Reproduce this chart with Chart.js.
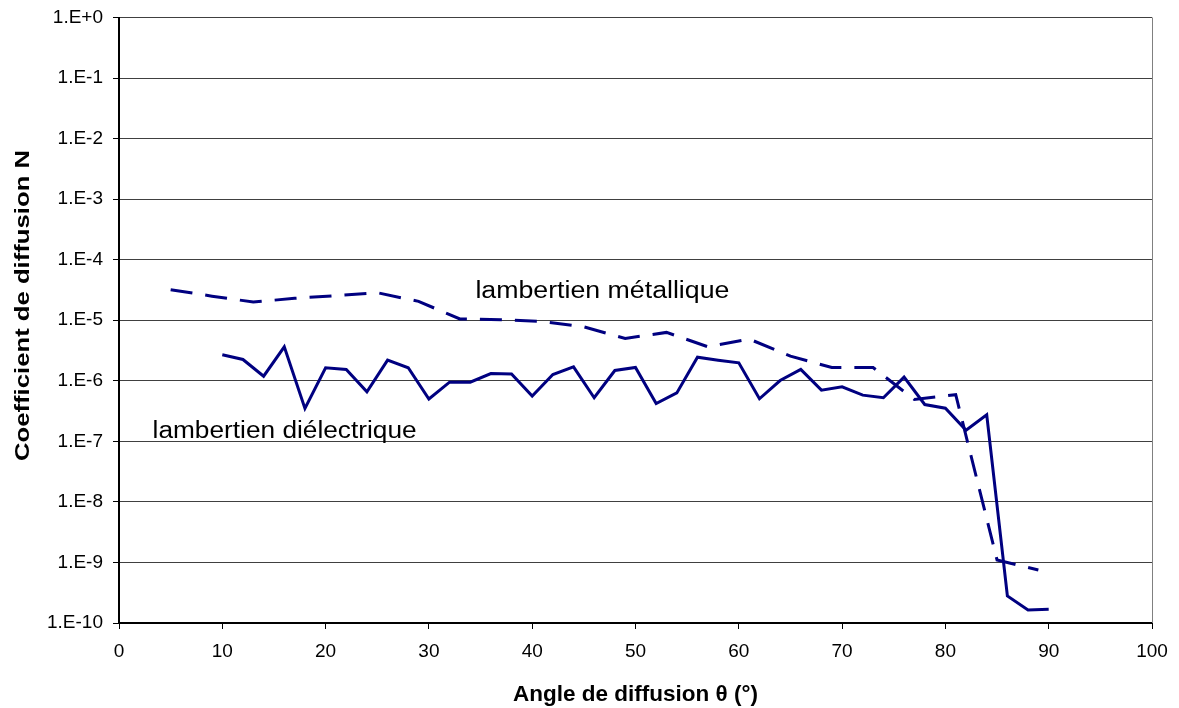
<!DOCTYPE html>
<html><head><meta charset="utf-8">
<script src="https://cdn.jsdelivr.net/npm/chart.js@4"></script>
<style>html,body{margin:0;padding:0;background:#fff;} canvas{display:block;}</style>
</head><body>
<canvas id="c" width="1179" height="708"></canvas>
<script>
// ---- data ----
const anglesDielectric = [10,12,14,16,18,20,22,24,26,28,30,32,34,36,38,40,42,44,46,48,50,52,54,56,58,60,62,64,66,68,70,72,74,76,78,80,82,84,86,88,90];
const valuesDielectric = [2.7e-6,2.25e-6,1.19e-6,3.64e-6,3.5e-7,1.64e-6,1.54e-6,6.6e-7,2.19e-6,1.64e-6,5.0e-7,9.5e-7,9.5e-7,1.32e-6,1.3e-6,5.6e-7,1.27e-6,1.7e-6,5.25e-7,1.48e-6,1.66e-6,4.2e-7,6.3e-7,2.45e-6,2.19e-6,1.98e-6,5.05e-7,1.01e-6,1.54e-6,7.0e-7,7.96e-7,5.8e-7,5.25e-7,1.15e-6,4.06e-7,3.53e-7,1.53e-7,2.75e-7,2.79e-10,1.64e-10,1.68e-10];
const anglesMetallic = [5,9,13,17,21,25,29,33,37,41,45,49,53,57,61,65,69,73,77,81,85,89];
const valuesMetallic = [3.2e-5,2.5e-5,2.0e-5,2.3e-5,2.55e-5,2.85e-5,2.05e-5,1.05e-5,1.02e-5,9.5e-6,7.8e-6,5.0e-6,6.3e-6,3.65e-6,4.9e-6,2.55e-6,1.66e-6,1.66e-6,4.9e-7,5.9e-7,1.1e-9,7.5e-10];
const xTickValues = [0,10,20,30,40,50,60,70,80,90,100];
const yTickExponents = [0,-1,-2,-3,-4,-5,-6,-7,-8,-9,-10];
const labelMetallic = 'lambertien métallique';
const labelDielectric = 'lambertien diélectrique';
const xAxisTitle = 'Angle de diffusion θ (°)';
const yAxisTitle = 'Coefficient de diffusion N';

const FONT = "'Liberation Sans', Arial, Helvetica, sans-serif";
const NAVY = '#000080';

const toPoints = (xs, ys) => xs.map((x, i) => ({x: x, y: ys[i]}));

// draw text stretched along its reading direction to a target length
function stretchedText(ctx, text, x, y, targetWidth) {
  const w = ctx.measureText(text).width;
  const s = targetWidth / w;
  ctx.save();
  ctx.translate(x, y);
  ctx.scale(s, 1);
  ctx.fillText(text, 0, 0);
  ctx.restore();
}

const extras = {
  id: 'extras',
  afterDraw(chart) {
    const ctx = chart.ctx;
    const a = chart.chartArea;
    const xs = chart.scales.x, ys = chart.scales.y;
    ctx.save();
    // right border of plot area
    ctx.strokeStyle = '#808080';
    ctx.lineWidth = 1;
    ctx.beginPath();
    ctx.moveTo(Math.round(a.right) + 0.5, a.top);
    ctx.lineTo(Math.round(a.right) + 0.5, a.bottom);
    ctx.stroke();
    // series labels
    ctx.fillStyle = '#000';
    ctx.font = '23px ' + FONT;
    ctx.textAlign = 'left';
    ctx.textBaseline = 'alphabetic';
    stretchedText(ctx, labelMetallic, xs.getPixelForValue(34.5), ys.getPixelForValue(2.33e-5), 254);
    stretchedText(ctx, labelDielectric, xs.getPixelForValue(3.25), ys.getPixelForValue(1.135e-7), 264);
    // y axis title
    ctx.font = 'bold 21px ' + FONT;
    ctx.textAlign = 'center';
    ctx.textBaseline = 'middle';
    ctx.translate(23, 305.5);
    ctx.rotate(-Math.PI / 2);
    const w = ctx.measureText(yAxisTitle).width;
    ctx.scale(311 / w, 1);
    ctx.fillText(yAxisTitle, 0, 0);
    ctx.restore();
  }
};

new Chart(document.getElementById('c'), {
  type: 'line',
  data: {
    datasets: [
      {
        label: labelMetallic,
        data: toPoints(anglesMetallic, valuesMetallic),
        borderColor: NAVY,
        borderWidth: 3,
        borderDash: [22, 13],
        pointRadius: 0,
        fill: false,
        tension: 0
      },
      {
        label: labelDielectric,
        data: toPoints(anglesDielectric, valuesDielectric),
        borderColor: NAVY,
        borderWidth: 3,
        pointRadius: 0,
        fill: false,
        tension: 0
      }
    ]
  },
  options: {
    responsive: false,
    animation: false,
    events: [],
    layout: {padding: {top: 17.5, right: 27, left: 0, bottom: 0}},
    plugins: {legend: {display: false}, tooltip: {enabled: false}},
    scales: {
      x: {
        type: 'linear',
        min: 0, max: 100,
        afterBuildTicks(scale) { scale.ticks = xTickValues.map(v => ({value: v})); },
        afterFit(scale) { scale.height = 85; scale.paddingLeft = 0; scale.paddingRight = 0; },
        ticks: {color: '#000', font: {family: FONT, size: 19}, padding: 11, maxRotation: 0, autoSkip: false},
        grid: {drawOnChartArea: false, drawTicks: true, tickLength: 6, tickColor: '#000', tickWidth: 1},
        border: {color: '#000', width: 2},
        title: {display: true, text: xAxisTitle, color: '#000', font: {family: FONT, size: 22.5, weight: 'bold'}, padding: {top: 0, bottom: 0}}
      },
      y: {
        type: 'logarithmic',
        min: 1e-10, max: 1,
        afterBuildTicks(scale) { scale.ticks = yTickExponents.map(e => ({value: Math.pow(10, e)})); },
        afterFit(scale) { scale.width = 119; scale.paddingTop = 0; scale.paddingBottom = 0; },
        ticks: {
          color: '#000', font: {family: FONT, size: 19}, padding: 10, autoSkip: false,
          callback(v) {
            const e = Math.round(Math.log10(v));
            return '1.E' + (e >= 0 ? '+' + e : String(e));
          }
        },
        grid: {color: '#404040', lineWidth: 1, drawTicks: true, tickLength: 6, tickColor: '#000'},
        border: {color: '#000', width: 2}
      }
    }
  },
  plugins: [extras]
});
</script>
</body></html>
